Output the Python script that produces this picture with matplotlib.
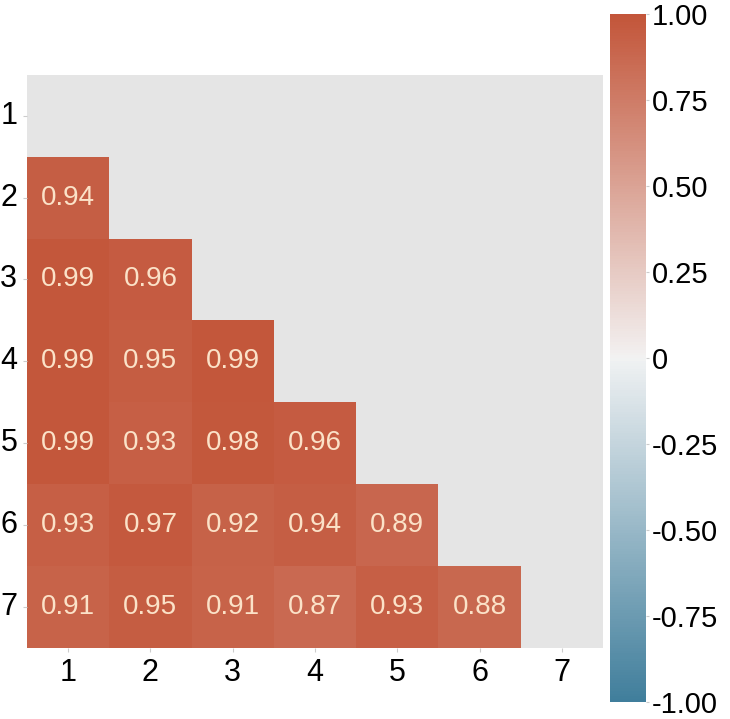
import numpy as np
import matplotlib.pyplot as plt
import seaborn as sns

labels = ['1', '2', '3', '4', '5', '6', '7']
# lower triangle values, row by row (row 2..7)
lower = [
    [0.94],
    [0.99, 0.96],
    [0.99, 0.95, 0.99],
    [0.99, 0.93, 0.98, 0.96],
    [0.93, 0.97, 0.92, 0.94, 0.89],
    [0.91, 0.95, 0.91, 0.87, 0.93, 0.88],
]
cbar_ticks = [-1.0, -0.75, -0.5, -0.25, 0.0, 0.25, 0.5, 0.75, 1.0]
cbar_labels = ['-1.00', '-0.75', '-0.50', '-0.25', '0', '0.25', '0.50', '0.75', '1.00']

n = len(labels)
corr = np.eye(n)
for i, row in enumerate(lower, start=1):
    for j, v in enumerate(row):
        corr[i, j] = v
        corr[j, i] = v
mask = np.triu(np.ones_like(corr, dtype=bool))

plt.rcParams['font.family'] = ['Liberation Sans', 'DejaVu Sans']
cmap = sns.diverging_palette(230, 20, as_cmap=True)

fig = plt.figure(figsize=(7.3, 7.19), dpi=100)
ax = fig.add_axes([0.037, 0.099, 0.789, 0.797])
cax = fig.add_axes([0.836, 0.024, 0.049, 0.956])
ax.set_facecolor('#e5e5e5')

sns.heatmap(corr, mask=mask, cmap=cmap, vmin=-1, vmax=1, center=0,
            annot=True, fmt='.2f', annot_kws={'size': 20, 'color': '#fbe2c8'},
            xticklabels=labels, yticklabels=labels, square=False,
            ax=ax, cbar_ax=cax)

ax.tick_params(axis='both', labelsize=22, length=3, color='#cccccc', pad=4)
ax.set_yticklabels(labels, rotation=0)
for s in ax.spines.values():
    s.set_visible(False)

cax.set_yticks(cbar_ticks)
cax.set_yticklabels(cbar_labels)
cax.tick_params(labelsize=21, length=2, color='#cccccc', pad=2)
for s in cax.spines.values():
    s.set_visible(False)

plt.savefig('out.png', dpi=100)
